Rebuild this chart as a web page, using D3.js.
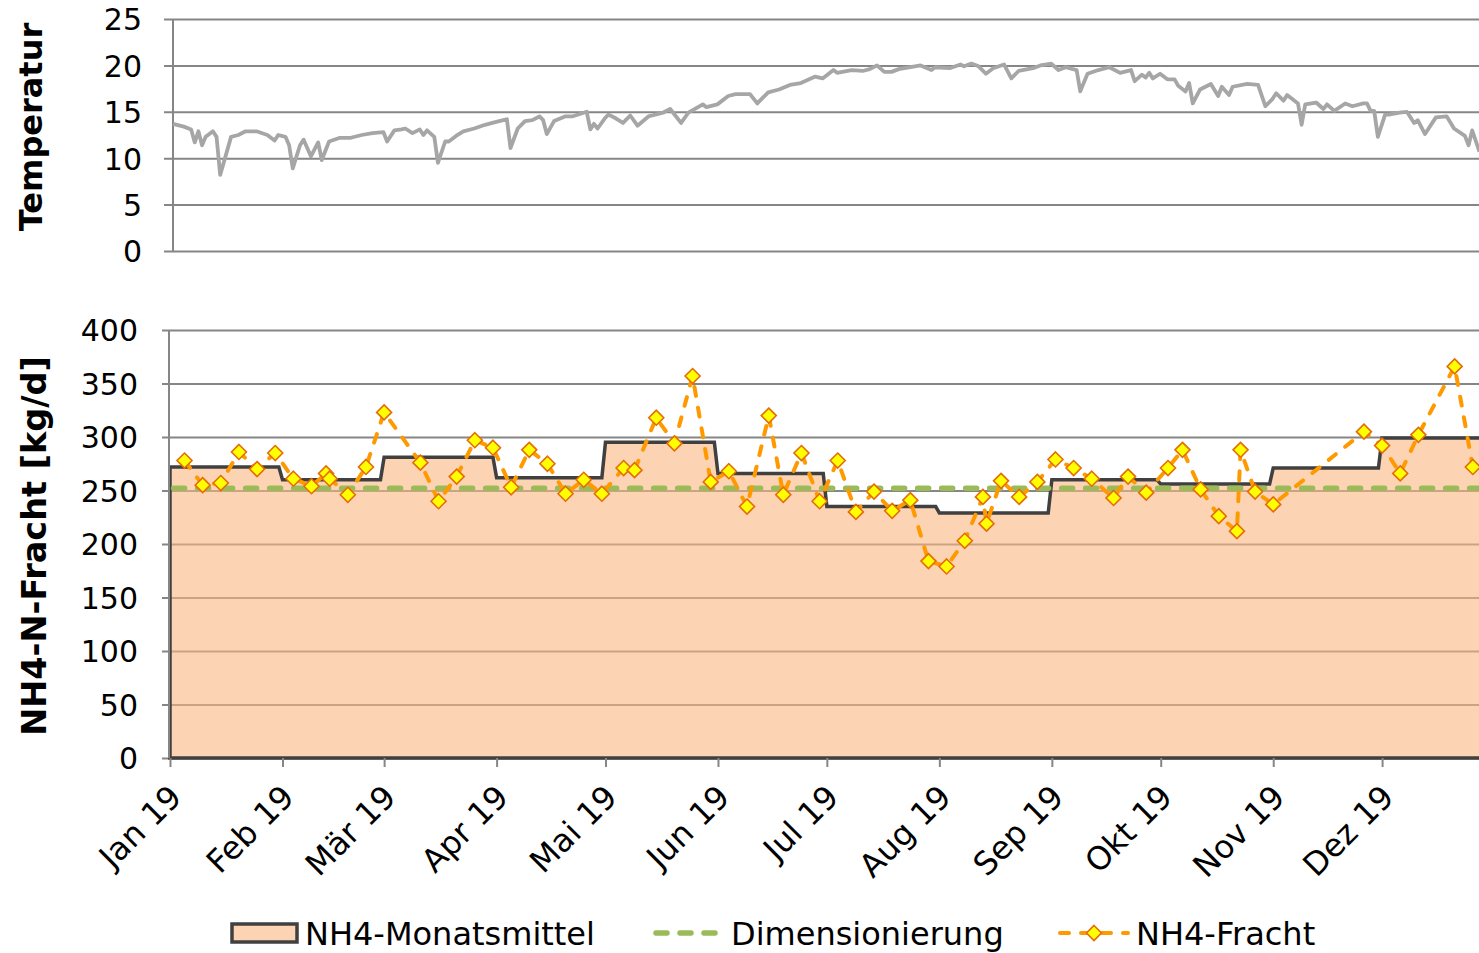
<!DOCTYPE html>
<html>
<head>
<meta charset="utf-8">
<script src="https://cdn.jsdelivr.net/npm/d3@7"></script>
<style>
  body { margin: 0; background: #fff; }
  text { font-family: "DejaVu Sans", Verdana, sans-serif; fill: #000; }
</style>
</head>
<body>
<svg id="chart"></svg>
<script>
// temperature: day of year (0 = 1 Jan 2019) and value
const tempDay = [0,3,5,6,7,8,9,11,12,13,16,18,20,23,26,28,29,31,32,33,35,36,38,40,41,43,46,49,52,55,58,59,61,63,64,66,68,69,70,72,73,75,76,78,80,83,86,88,91,92,93,95,97,99,101,102,103,105,108,110,114,115,116,117,119,120,122,124,126,128,131,135,137,140,142,146,147,150,153,155,159,161,164,167,170,173,177,179,182,183,187,190,192,194,196,198,200,206,209,210,214,217,218,220,222,224,226,229,231,233,237,239,242,244,246,249,250,252,255,258,261,264,265,267,268,269,270,272,274,276,277,279,280,281,283,286,288,289,291,292,296,299,301,303,304,306,307,310,311,312,315,317,318,320,323,325,328,329,330,331,332,334,335,338,340,342,343,345,348,351,353,356,357,358,360];
const tempVal = [13.7,13.4,13.1,11.7,12.9,11.4,12.3,12.9,12.3,8.2,12.3,12.5,12.9,12.9,12.5,11.9,12.5,12.3,11.4,8.9,11.4,12.0,10.2,11.7,9.8,11.8,12.2,12.2,12.5,12.7,12.8,11.8,13.0,13.1,13.2,12.7,13.1,12.5,13.0,12.3,9.5,11.8,11.8,12.4,12.9,13.2,13.6,13.8,14.1,14.2,11.1,13.2,14.0,14.1,14.5,14.1,12.6,14.0,14.5,14.5,15.0,13.1,13.7,13.2,14.3,14.7,14.3,13.8,14.6,13.5,14.5,14.9,15.3,13.8,14.9,15.8,15.5,15.8,16.7,16.9,16.9,15.9,17.1,17.4,17.9,18.1,18.8,18.6,19.5,19.2,19.5,19.4,19.6,20.0,19.3,19.3,19.6,20.0,19.5,19.8,19.7,20.1,19.9,20.2,19.9,19.1,19.7,20.1,18.6,19.4,19.7,20.0,20.2,19.5,19.8,19.5,17.2,19.1,19.5,19.8,19.2,19.5,18.3,19.0,18.7,19.2,18.6,19.1,18.5,18.5,17.8,17.2,18.1,15.9,17.4,18.0,16.7,17.7,16.8,17.7,18.0,17.9,15.6,16.4,17.0,16.2,16.8,15.9,13.6,15.8,16.0,15.3,15.8,15.1,15.9,15.6,15.9,15.9,15.1,15.1,12.3,14.7,14.7,14.9,15.0,13.8,14.1,12.6,14.4,14.5,13.2,12.4,11.4,13.0,10.7];

// lower panel
const monthLabels = ["Jan 19","Feb 19","Mär 19","Apr 19","Mai 19","Jun 19","Jul 19","Aug 19","Sep 19","Okt 19","Nov 19","Dez 19"];
const monthMean = [272,260,281,262,295,266,235,229,260,256,271,299];
const dimensionierung = 252;
const frachtDay = [4,9,14,19,24,29,34,39,43,44,49,54,59,69,74,79,84,89,94,99,104,109,114,119,125,128,134,139,144,149,154,159,165,169,174,179,184,189,194,199,204,209,214,219,224,225,229,234,239,244,249,254,260,264,269,275,279,284,289,294,295,299,304,329,334,339,344,354,359];
const frachtVal = [278,255,257,286,270,285,261,254,266,261,246,272,323,276,240,263,297,290,253,288,275,247,260,247,271,269,318,294,357,258,268,235,320,246,285,240,278,230,249,231,241,184,179,203,244,219,259,244,258,279,271,261,243,263,248,271,288,251,226,212,288,249,237,305,292,266,302,366,272];

const tempTicks = [0,5,10,15,20,25];
const frachtTicks = [0,50,100,150,200,250,300,350,400];

const W = 1479, H = 953;
const pxPerDay = 3.629;
const day = d => new Date(2019, 0, 1 + d);

const svg = d3.select("#chart").attr("width", W).attr("height", H);

const gridCol = "#868686";

// ---------- upper panel: Temperatur ----------
const xT = d3.scaleTime().domain([day(0), day(365)]).range([173, 173 + 365 * pxPerDay]);
const yT = d3.scaleLinear().domain([0, 25]).range([251, 19]);

const gT = svg.append("g");
gT.append("g")
  .attr("transform", "translate(173,0)")
  .call(d3.axisLeft(yT).tickValues(tempTicks).tickSize(-(W - 173)).tickSizeOuter(0).tickPadding(31))
  .call(g => g.select(".domain").remove())
  .call(g => g.selectAll(".tick line").attr("stroke", gridCol).attr("stroke-width", 2).attr("x1", -9))
  .call(g => g.selectAll(".tick text").attr("font-size", 30).attr("dy", "0.36em"));
gT.append("line").attr("x1", 173).attr("x2", 173).attr("y1", 19).attr("y2", 251)
  .attr("stroke", gridCol).attr("stroke-width", 2);

const tempData = tempDay.map((d, i) => ({ date: day(d), v: tempVal[i] }));
gT.append("path")
  .datum(tempData)
  .attr("fill", "none")
  .attr("stroke", "#a6a6a6")
  .attr("stroke-width", 3.8)
  .attr("stroke-linejoin", "round")
  .attr("d", d3.line().x(d => xT(d.date)).y(d => yT(d.v)));

svg.append("text")
  .attr("transform", "translate(42,127) rotate(-90)")
  .attr("text-anchor", "middle")
  .attr("font-size", 32)
  .attr("font-weight", "bold")
  .text("Temperatur");

// ---------- lower panel: NH4-Fracht ----------
const x = d3.scaleTime().domain([day(0), day(365)]).range([170, 170 + 365 * pxPerDay]);
const y = d3.scaleLinear().domain([0, 400]).range([758, 330]);

const gB = svg.append("g");
gB.append("g")
  .attr("transform", "translate(170,0)")
  .call(d3.axisLeft(y).tickValues(frachtTicks).tickSize(-(W - 170)).tickSizeOuter(0).tickPadding(32))
  .call(g => g.select(".domain").remove())
  .call(g => g.selectAll(".tick line").attr("stroke", gridCol).attr("stroke-width", 2).attr("x1", -8))
  .call(g => g.selectAll(".tick text").attr("font-size", 30).attr("dy", "0.36em"));

// monthly means as a stepped area
const meanPts = [];
monthMean.forEach((v, i) => {
  meanPts.push({ date: new Date(2019, i, 1), v: v });
  meanPts.push({ date: new Date(2019, i + 1, 0), v: v });
});
gB.append("path")
  .datum(meanPts)
  .attr("fill", "#fab882")
  .attr("fill-opacity", 0.6)
  .attr("stroke", "#404040")
  .attr("stroke-width", 3.5)
  .attr("d", d3.area().x(d => x(d.date)).y0(y(0)).y1(d => y(d.v)));

gB.append("line").attr("x1", 169).attr("x2", 169).attr("y1", 330).attr("y2", 758)
  .attr("stroke", gridCol).attr("stroke-width", 2);

// Dimensionierung
gB.append("line")
  .attr("x1", x(day(1))).attr("x2", W)
  .attr("y1", y(dimensionierung)).attr("y2", y(dimensionierung))
  .attr("stroke", "#9bbb59").attr("stroke-width", 5.5)
  .attr("stroke-dasharray", "11,13").attr("stroke-linecap", "round");

// NH4-Fracht
const fracht = frachtDay.map((d, i) => ({ date: day(d), v: frachtVal[i] }));
gB.append("path")
  .datum(fracht)
  .attr("fill", "none")
  .attr("stroke", "#ff9900")
  .attr("stroke-width", 4)
  .attr("stroke-dasharray", "9,12")
  .attr("stroke-linecap", "round")
  .attr("d", d3.line().x(d => x(d.date)).y(d => y(d.v)));

gB.selectAll(".mk")
  .data(fracht)
  .join("path")
  .attr("class", "mk")
  .attr("d", "M0,-7.5L7.5,0L0,7.5L-7.5,0Z")
  .attr("transform", d => `translate(${x(d.date)},${y(d.v)})`)
  .attr("fill", "#ffff00")
  .attr("stroke", "#e46c0a")
  .attr("stroke-width", 1.6);

// x axis
gB.append("g")
  .attr("transform", "translate(0,758)")
  .call(d3.axisBottom(x).tickValues(d3.range(12).map(i => new Date(2019, i, 1)))
    .tickFormat(d => monthLabels[d.getMonth()]).tickSize(9).tickSizeOuter(0))
  .call(g => g.select(".domain").remove())
  .call(g => g.selectAll(".tick line").attr("stroke", gridCol).attr("stroke-width", 2))
  .call(g => g.selectAll(".tick text")
    .attr("font-size", 32)
    .attr("text-anchor", "end")
    .attr("dy", null)
    .attr("y", null)
    .attr("transform", "translate(13,41) rotate(-45)"));

svg.append("text")
  .attr("transform", "translate(46,546) rotate(-90)")
  .attr("text-anchor", "middle")
  .attr("font-size", 33.5)
  .attr("font-weight", "bold")
  .text("NH4-N-Fracht [kg/d]");

// ---------- legend ----------
const lg = svg.append("g").attr("font-size", 32);
lg.append("rect").attr("x", 232).attr("y", 924).attr("width", 65).attr("height", 18)
  .attr("fill", "#fab882").attr("fill-opacity", 0.6).attr("stroke", "#404040").attr("stroke-width", 3.5);
lg.append("text").attr("x", 305).attr("y", 945).text("NH4-Monatsmittel");

lg.append("line").attr("x1", 656).attr("x2", 718).attr("y1", 933).attr("y2", 933)
  .attr("stroke", "#9bbb59").attr("stroke-width", 5.5)
  .attr("stroke-dasharray", "11,13").attr("stroke-linecap", "round");
lg.append("text").attr("x", 731).attr("y", 945).text("Dimensionierung");

lg.append("line").attr("x1", 1060).attr("x2", 1128).attr("y1", 933).attr("y2", 933)
  .attr("stroke", "#ff9900").attr("stroke-width", 4)
  .attr("stroke-dasharray", "9,12").attr("stroke-linecap", "round");
lg.append("path").attr("d", "M0,-7.5L7.5,0L0,7.5L-7.5,0Z")
  .attr("transform", "translate(1094,933)")
  .attr("fill", "#ffff00").attr("stroke", "#e46c0a").attr("stroke-width", 1.6);
lg.append("text").attr("x", 1136).attr("y", 945).text("NH4-Fracht");
</script>
</body>
</html>
